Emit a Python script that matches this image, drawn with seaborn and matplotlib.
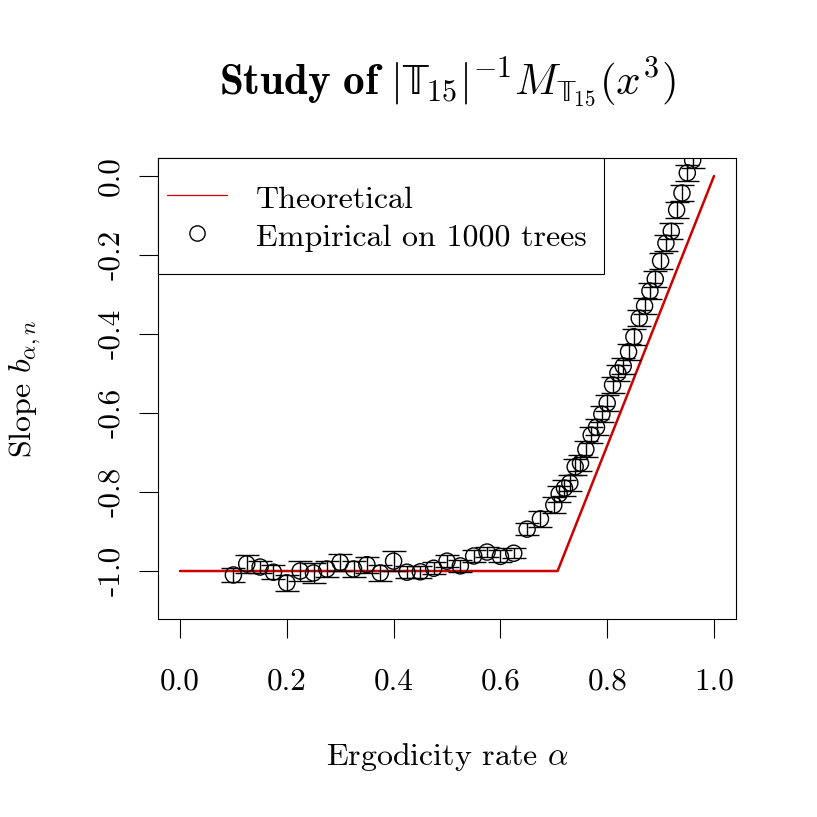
import matplotlib
matplotlib.use("Agg")
import matplotlib.pyplot as plt
from matplotlib.lines import Line2D
from matplotlib.patches import Rectangle
import seaborn as sns
import pandas as pd

# ---- data ----
theo_x = [0.0, 0.7071, 1.0]
theo_y = [-1.0, -1.0, 0.0]

emp_x = [0.100, 0.125, 0.150, 0.175, 0.200, 0.225, 0.250, 0.275, 0.300, 0.325,
         0.350, 0.375, 0.400, 0.425, 0.450, 0.475, 0.500, 0.525, 0.550, 0.575,
         0.600, 0.625, 0.650, 0.675,
         0.70, 0.71, 0.72, 0.73, 0.74, 0.75, 0.76, 0.77, 0.78, 0.79,
         0.80, 0.81, 0.82, 0.83, 0.84, 0.85, 0.86, 0.87, 0.88, 0.89,
         0.90, 0.91, 0.92, 0.93, 0.94, 0.95, 0.96]
emp_y = [-1.010, -0.982, -0.990, -1.003, -1.030, -1.000, -1.005, -0.995, -0.978, -0.995,
         -0.984, -1.005, -0.975, -1.003, -1.002, -0.993, -0.975, -0.987, -0.962, -0.952,
         -0.963, -0.955, -0.894, -0.868,
         -0.833, -0.805, -0.790, -0.777, -0.736, -0.727, -0.692, -0.656, -0.636, -0.603,
         -0.575, -0.529, -0.499, -0.481, -0.445, -0.407, -0.360, -0.329, -0.291, -0.261,
         -0.215, -0.170, -0.140, -0.086, -0.043, 0.008, 0.040]
emp_err = [0.018, 0.022, 0.015, 0.018, 0.020, 0.025, 0.025, 0.020, 0.022, 0.020,
           0.020, 0.020, 0.025, 0.015, 0.015, 0.015, 0.015, 0.015, 0.015, 0.012,
           0.015, 0.012, 0.015, 0.020,
           0.020, 0.020, 0.020, 0.020, 0.020, 0.020, 0.020, 0.020, 0.020, 0.020,
           0.020, 0.020, 0.020, 0.020, 0.020, 0.020, 0.020, 0.020, 0.020, 0.020,
           0.020, 0.020, 0.020, 0.020, 0.020, 0.020, 0.020]

x_ticks = [0.0, 0.2, 0.4, 0.6, 0.8, 1.0]
x_ticklabels = ["0.0", "0.2", "0.4", "0.6", "0.8", "1.0"]
y_ticks = [0.0, -0.2, -0.4, -0.6, -0.8, -1.0]
y_ticklabels = ["0.0", "-0.2", "-0.4", "-0.6", "-0.8", "-1.0"]

# ---- style ----
sns.set_style("ticks")
plt.rcParams["font.family"] = ["cmr10", "DejaVu Serif"]
plt.rcParams["mathtext.fontset"] = "cm"
plt.rcParams["mathtext.fallback"] = "stix"
plt.rcParams["axes.unicode_minus"] = False
plt.rcParams["axes.formatter.use_mathtext"] = True
for k in ["text.color", "axes.labelcolor", "xtick.color", "ytick.color", "axes.edgecolor"]:
    plt.rcParams[k] = "black"

RED = "#CD0000"
FS = 23
TFS = 22.5

W = 817.0
fig = plt.figure(figsize=(8.17, 8.17), dpi=100)
ax = fig.add_axes([158/W, 1-619/W, (736-158)/W, (619-158)/W])

theo = pd.DataFrame({"x": theo_x, "y": theo_y})
emp = pd.DataFrame({"x": emp_x, "y": emp_y, "err": emp_err})

sns.lineplot(data=theo, x="x", y="y", ax=ax, color=RED, linewidth=1.8,
             sort=False, estimator=None, zorder=2)
sns.scatterplot(data=emp, x="x", y="y", ax=ax, marker="o", s=135,
                fc="none", ec="black", linewidth=1.0, zorder=3)
ax.errorbar(emp["x"], emp["y"], yerr=emp["err"], fmt="none", ecolor="black",
            elinewidth=1.0, capsize=8.8, capthick=1.0, zorder=4)

ax.set_xlim(-0.0412, 1.0412)
ax.set_ylim(-1.1215, 0.0456)

ax.set_xticks(x_ticks)
ax.set_xticklabels(x_ticklabels)
ax.set_yticks(y_ticks)
ax.set_yticklabels(y_ticklabels, rotation=90, va="center")
ax.tick_params(axis="both", length=14, width=0.8, color="black",
               labelsize=TFS, labelcolor="black")
ax.tick_params(axis="x", pad=21)
ax.tick_params(axis="y", pad=10)

for sp in ax.spines.values():
    sp.set_visible(True)
    sp.set_color("black")
    sp.set_linewidth(0.8)

ax.set_xlabel(r"Ergodicity rate $\alpha$", fontsize=FS)
ax.xaxis.label.set_va("center")
ax.xaxis.set_label_coords(0.5, (619-757)/461)
ax.set_ylabel(r"Slope $b_{\alpha,n}$", fontsize=FS)
ax.yaxis.label.set_va("center")
ax.yaxis.set_label_coords((25-158)/578, 0.5)

ax.set_title(r"$\mathbf{Study\ of}\ |\mathrm{\mathbb{T}}_{15}|^{-1}M_{\mathrm{\mathbb{T}}_{15}}(x^3)$",
             fontsize=31, y=1+(158-91)/461, va="center")

# legend box (R style) and entries
box = Rectangle((158/W, 1-274/W), (604-158)/W, (274-158)/W, transform=fig.transFigure,
                facecolor="white", edgecolor="black", linewidth=0.8, zorder=4.9,
                clip_on=False)
ax.add_patch(box)
handles = [Line2D([0], [0], color=RED, linewidth=0.9),
           Line2D([0], [0], marker="o", linestyle="none", markerfacecolor="none",
                  markeredgecolor="black", markersize=11, markeredgewidth=1.0)]
leg = ax.legend(handles, ["Theoretical", "Empirical on 1000 trees"],
                loc="upper left", bbox_to_anchor=(167/W, 1-181/W),
                bbox_transform=fig.transFigure, borderaxespad=0, borderpad=0,
                fontsize=FS, frameon=False, handlelength=1.88,
                handletextpad=0.9, handleheight=1.19, labelspacing=0.16)
leg.set_zorder(5)

fig.savefig("out.png", dpi=100)
